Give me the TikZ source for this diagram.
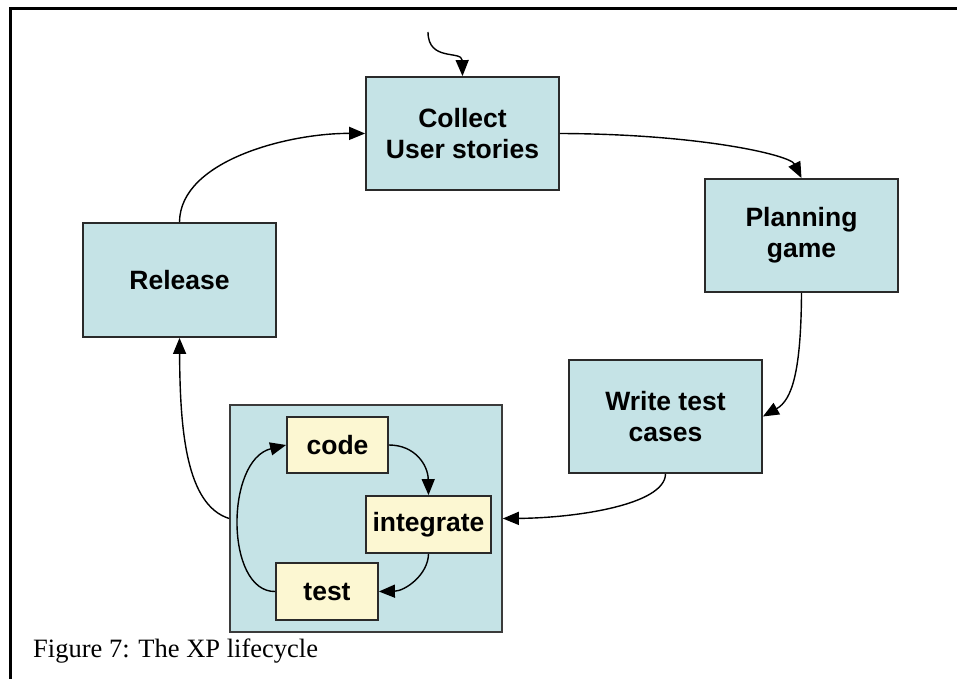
\documentclass[tikz,border=0pt]{standalone}
\usepackage{fontspec}
\setmainfont{Liberation Serif}
\newfontfamily\boxfont{Liberation Sans}
\usetikzlibrary{arrows.meta}
\definecolor{boxblue}{HTML}{C5E3E6}
\definecolor{boxyellow}{HTML}{FCF7D2}
\definecolor{edge}{HTML}{2A2A2A}
\begin{document}
\begin{tikzpicture}[x=1pt,y=-1pt,
  bigbox/.style={draw=edge,line width=1.8pt,fill=boxblue,minimum width=193pt,minimum height=113pt,inner sep=0pt,align=center,font=\boxfont\bfseries\fontsize{26.5}{31}\selectfont},
  smallbox/.style={draw=edge,line width=1.8pt,fill=boxyellow,minimum height=57pt,inner sep=0pt,font=\boxfont\bfseries\fontsize{26.5}{31}\selectfont},
  frame/.style={draw=edge!80!gray,line width=1.6pt,fill=boxblue},
  conn/.style={line width=1.4pt,-{Triangle[length=16pt,width=13pt]}}]
\useasboundingbox (0,0) rectangle (957,679);
\fill[white] (0,0) rectangle (957,679);
% frame lines
\draw[line width=3.6pt] (957,8.5) -- (10.5,8.5) -- (10.5,679);
% container
\node[frame,minimum width=272pt,minimum height=227pt,inner sep=0pt] (cont) at (366,518.5) {};
% big boxes
\node[bigbox] (collect) at (462.5,133.5) {Collect\\User stories};
\node[bigbox] (plan) at (801.5,235.5) {Planning\\game};
\node[bigbox] (write) at (665.5,416.5) {Write test\\cases};
\node[bigbox,minimum height=114pt] (release) at (179.5,280) {Release};
% small boxes
\node[smallbox,minimum width=101pt,minimum height=56pt] (code) at (337.5,445) {code};
\node[smallbox,minimum width=125pt] (integ) at (428.5,524.5) {integrate};
\node[smallbox,minimum width=102pt] (test) at (327,591.5) {test};
% entry
\coordinate (start) at (428,32);
\draw[conn] (start) .. controls (428,62) and (462,50) .. (collect.north);
% cycle
\draw[conn] (collect.east) .. controls (700,134) and (790,155) .. (plan.north);
\draw[conn] (plan.south) .. controls (801,372) and (792,400) .. (write.east);
\draw[conn] (write.south) .. controls (665,505) and (575,518) .. (cont.east);
\draw[conn] (cont.west) .. controls (186,505) and (180,430) .. (release.south);
\draw[conn] (release.north) .. controls (180,160) and (290,133) .. (collect.west);
% inner cycle
\draw[conn] (code.east) .. controls (415,445) and (428,465) .. (integ.north);
\draw[conn] (integ.south) .. controls (428,575) and (405,591) .. (test.east);
\draw[conn] (test.west) .. controls (225,592) and (225,460) .. (code.west);
% caption
\node[anchor=base west,inner sep=0pt,font=\fontsize{26.5}{30}\selectfont] (cap) at (33,657) {Figure 7: The XP lifecycle};
\end{tikzpicture}
\end{document}
